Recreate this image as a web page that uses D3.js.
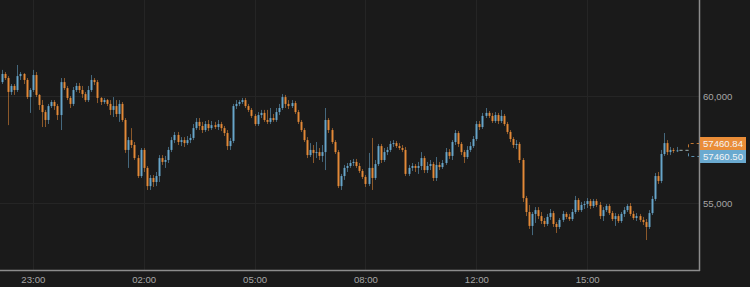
<!DOCTYPE html>
<html>
<head>
<meta charset="utf-8">
<script src="https://cdn.jsdelivr.net/npm/d3@7"></script>
<style>
  html, body { margin: 0; padding: 0; background: #1a1a1a; }
  svg { display: block; }
  text { font-family: "Liberation Sans", Arial, sans-serif; }
</style>
</head>
<body>
<script>
// 5-minute candles, index based x (tick labels as shown on the chart)
const tickIndex = [10, 46, 82, 118, 154, 190];
const tickLabels = ["23:00", "02:00", "05:00", "08:00", "12:00", "15:00"];
const priceTicks = [55000, 60000];
const lastPrices = [57460.84, 57460.50];

const opens = [60650,61030,60840,60190,60470,60280,60930,61030,60750,59950,60280,60980,60050,59580,59250,58880,59530,59720,59530,59110,
  60650,60370,59910,59630,60280,60470,60280,60090,59810,60280,60750,60650,59910,59720,59810,59630,59350,59530,59160,59630,
  58880,57480,57940,57710,57100,56260,57480,56640,55790,56170,55980,56260,57100,56920,57010,57480,57940,58180,57850,57940,
  57800,57940,58040,58500,58790,58600,58410,58690,58500,58640,58550,58690,58500,58270,57660,57900,59530,59630,59720,59810,
  59530,59350,59070,58690,59110,59210,58880,58790,58970,58880,59250,59440,59950,59630,59530,59670,59250,58790,58410,57940,
  57240,57480,57340,57380,57200,57380,58880,58410,57850,57380,55790,56260,56640,56730,56870,56920,56730,56500,56220,55890,
  56640,56170,56820,57660,57010,57380,57480,57760,57800,57660,57570,57480,56360,56640,56730,56640,56730,57100,56540,56730,
  56820,56170,56780,56680,56870,57380,57200,57850,58270,57760,57380,57150,57480,57660,57990,58690,58550,59070,59210,59070,
  58830,59110,58830,59070,58690,58320,57990,57710,57760,57010,55230,54580,53930,54490,54670,54390,54160,54020,54350,54530,
  54020,53880,54210,54490,54350,54250,54580,55140,54670,54910,54950,55090,54860,55090,54910,54390,54670,54860,54530,54250,
  54390,54160,54490,54670,54860,54490,54300,54390,54210,54110,53880,54530,55190,56260,56030,57290,57800,57380,57480,57430];

const closes = [61030,60840,60190,60470,60280,60930,61030,60750,59950,60280,60980,60050,59580,59250,58880,59530,59720,59530,59110,60650,
  60370,59910,59630,60280,60470,60280,60090,59810,60280,60750,60650,59910,59720,59810,59630,59350,59530,59160,59630,58880,
  57480,57940,57710,57100,56260,57480,56640,55790,56170,55980,56260,57100,56920,57010,57480,57940,58180,57850,57940,57800,
  57940,58040,58500,58790,58600,58410,58690,58500,58640,58550,58690,58500,58270,57660,57900,59530,59630,59720,59810,59530,
  59350,59070,58690,59110,59210,58880,58790,58970,58880,59250,59440,59950,59630,59530,59670,59250,58790,58410,57940,57240,
  57480,57340,57380,57200,57380,58880,58410,57850,57380,55790,56260,56640,56730,56870,56920,56730,56500,56220,55890,56640,
  56170,56820,57660,57010,57380,57480,57760,57800,57660,57570,57480,56360,56640,56730,56640,56730,57100,56540,56730,56820,
  56170,56780,56680,56870,57380,57200,57850,58270,57760,57380,57150,57480,57660,57990,58690,58550,59070,59210,59070,58830,
  59110,58830,59070,58690,58320,57990,57710,57760,57010,55230,54580,53930,54490,54670,54390,54160,54020,54350,54530,54020,
  53880,54210,54490,54350,54250,54580,55140,54670,54910,54950,55090,54860,55090,54910,54390,54670,54860,54530,54250,54390,
  54160,54490,54670,54860,54490,54300,54390,54210,54110,53880,54530,55190,56260,56030,57290,57800,57380,57480,57430,57460.84];

const highs = [61220,61120,60930,60560,60560,61450,61120,61070,60840,60370,61220,61120,60090,59810,59350,59630,59810,59810,59630,60840,
  60840,60470,60000,60420,60610,60610,60470,60190,60470,60980,60840,60750,59950,59910,59860,59810,59950,59810,59810,59720,
  58970,58080,58500,57850,57240,57570,57570,56730,56310,56310,56450,57240,57240,57200,57620,58080,58320,58320,58080,58080,
  58130,58220,58690,58970,58970,58790,58830,58880,58830,58790,58880,58790,58600,58410,58040,59630,59810,59810,59910,59910,
  59630,59440,59160,59250,59350,59350,59350,59440,59160,59440,59630,60090,60050,59810,59810,59770,59350,58880,58500,58080,
  57800,57710,57850,57570,57710,59440,58970,58500,57940,57480,56360,56780,56870,57010,57060,57060,56870,56590,56310,57340,
  58040,57010,57760,57760,57570,57620,57900,57940,57900,57800,57710,57620,56780,56870,56820,56920,57380,57200,56920,57010,
  56920,57150,56920,57010,57570,57520,57940,58410,58360,57850,57480,57660,57850,58130,58830,58830,59210,59440,59300,59210,
  59250,59210,59350,59160,58790,58410,58080,57940,57850,57100,55330,54910,54580,54810,54810,54580,54300,54490,54720,54630,
  54110,54300,54630,54580,54490,54720,55330,55230,55050,55090,55230,55190,55190,55190,55050,54810,54950,54950,54630,54530,
  54490,54580,54810,54950,55000,54630,54530,54490,54350,54250,54670,55330,56400,56450,57480,58270,57940,57620,57570,57620];

const lows = [60560,60750,58640,60050,60050,60190,60750,60560,59860,59210,60190,59950,59350,58550,58550,58690,59440,59350,58880,58410,
  60280,59810,59440,59530,60190,60140,59910,59720,59720,60190,60510,59670,59580,59630,59530,59110,59020,59020,58790,58790,
  57340,56640,57570,57010,56170,56170,56450,55610,55610,55750,55790,55980,56780,56640,56870,57380,57800,57710,57660,57620,
  57710,57800,57940,58410,58410,58270,58320,58360,58410,58460,58410,58360,58130,57480,57480,57800,59390,59530,59630,59440,
  59250,58970,58600,58600,58970,58790,58690,58690,58790,58790,59110,59350,59440,59390,59440,59160,58690,58320,57850,57100,
  57150,56870,57100,57010,56920,56540,58270,57760,57290,55700,55610,56080,56450,56640,56730,56640,56400,56120,55750,55790,
  55610,56080,56730,56870,56920,57240,57380,57620,57570,57480,57380,56260,56260,56500,56450,56360,56540,56400,56400,56540,
  56030,56030,56540,56590,56780,57060,57010,57710,57620,57240,56870,57060,57380,57570,57900,58410,58460,58970,58970,58740,
  58740,58690,58740,58600,58220,57850,57570,57520,56870,55050,54390,53790,53500,54070,54250,54020,53880,53930,54210,53880,
  53600,53790,54110,54250,54160,54160,54490,54580,54580,54720,54770,54720,54770,54810,54250,54160,54580,54440,54160,53930,
  54070,54070,54350,54580,54390,54210,54160,54110,53970,53270,53790,54440,55090,55890,55930,57200,57240,57240,57340,57380];

const W = 750, H = 287;
const plotRight = 699, plotBottom = 270;
const UP = "#6aaad0", DOWN = "#ea8d38";
const fontSize = "9.6px";

const candles = closes.map((c, i) => ({
  i, open: opens[i], close: c, high: highs[i], low: lows[i]
}));

const svg = d3.select("body").append("svg")
  .attr("width", W)
  .attr("height", H);

svg.append("rect").attr("width", W).attr("height", H).attr("fill", "#1a1a1a");

const x = d3.scaleLinear().domain([-0.65, 226.3]).range([0, plotRight]);
const y = d3.scaleLinear().domain([51870, 64486]).range([plotBottom, 0]);

// grid
svg.append("g")
  .selectAll("line.vg")
  .data(tickIndex)
  .join("line")
  .attr("x1", (d) => Math.round(x(d)) + 0.5)
  .attr("x2", (d) => Math.round(x(d)) + 0.5)
  .attr("y1", 0)
  .attr("y2", plotBottom)
  .attr("stroke", "#252525");

svg.append("g")
  .selectAll("line.hg")
  .data(priceTicks)
  .join("line")
  .attr("x1", 0)
  .attr("x2", plotRight)
  .attr("y1", (d) => Math.round(y(d)) + 0.5)
  .attr("y2", (d) => Math.round(y(d)) + 0.5)
  .attr("stroke", "#252525");

// candles
const cg = svg.append("g");
const bw = 2;

cg.selectAll("line.wick")
  .data(candles)
  .join("line")
  .attr("x1", (d) => Math.round(x(d.i)) + 0.5)
  .attr("x2", (d) => Math.round(x(d.i)) + 0.5)
  .attr("y1", (d) => y(d.high))
  .attr("y2", (d) => y(d.low))
  .attr("stroke", (d) => (d.close >= d.open ? UP : DOWN))
  .attr("stroke-opacity", 0.55);

cg.selectAll("rect")
  .data(candles)
  .join("rect")
  .attr("x", (d) => Math.round(x(d.i)) - bw / 2 + 0.5)
  .attr("width", bw)
  .attr("y", (d) => y(Math.max(d.open, d.close)))
  .attr("height", (d) => Math.max(1, Math.abs(y(d.open) - y(d.close))))
  .attr("fill", (d) => (d.close >= d.open ? UP : DOWN))
  .attr("fill-opacity", 0.92);

// frame
svg.append("line")
  .attr("x1", plotRight + 0.5).attr("x2", plotRight + 0.5)
  .attr("y1", 0).attr("y2", plotBottom + 1)
  .attr("stroke", "#8c8c8c").attr("stroke-width", 1.5);
svg.append("line")
  .attr("x1", 0).attr("x2", plotRight + 1)
  .attr("y1", plotBottom + 0.5).attr("y2", plotBottom + 0.5)
  .attr("stroke", "#8c8c8c").attr("stroke-width", 1.5);

// axes
const xAxis = svg.append("g")
  .attr("transform", `translate(0,${plotBottom + 4})`)
  .call(d3.axisBottom(x).tickValues(tickIndex).tickFormat((d, i) => tickLabels[i]).tickSize(0).tickPadding(2));
xAxis.select(".domain").remove();
xAxis.selectAll("text").attr("fill", "#a6a6a6").style("font-size", fontSize);

const yAxis = svg.append("g")
  .attr("transform", `translate(${plotRight},0)`)
  .call(d3.axisRight(y).tickValues(priceTicks).tickFormat(d3.format(",")).tickSize(0).tickPadding(4));
yAxis.select(".domain").remove();
yAxis.selectAll("text").attr("fill", "#a6a6a6").style("font-size", fontSize);

// last price markers
const last = candles[candles.length - 1];
const bracketX = x(last.i) + 12;
const labelY = [143.5, 156.5];
const markColors = [DOWN, UP];

lastPrices.forEach((p, k) => {
  svg.append("path")
    .attr("d", `M${x(last.i) + 3},${y(p)}H${bracketX}V${labelY[k]}H${plotRight}`)
    .attr("fill", "none")
    .attr("stroke", markColors[k])
    .attr("stroke-opacity", 0.8)
    .attr("stroke-dasharray", "3,3");

  svg.append("rect")
    .attr("x", plotRight + 1)
    .attr("y", labelY[k] - 6.5)
    .attr("width", 46)
    .attr("height", 13)
    .attr("fill", markColors[k]);

  svg.append("text")
    .attr("x", plotRight + 4)
    .attr("y", labelY[k])
    .attr("dy", "0.35em")
    .attr("fill", "#f4f4f4")
    .style("font-size", fontSize)
    .text(p.toFixed(2));
});
</script>
</body>
</html>
